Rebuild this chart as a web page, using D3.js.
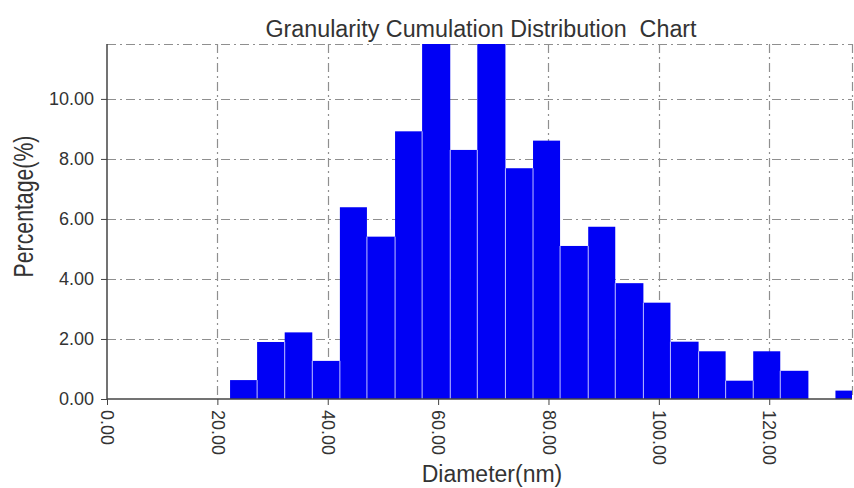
<!DOCTYPE html>
<html><head><meta charset="utf-8">
<script src="https://cdn.jsdelivr.net/npm/d3@7"></script>
<style>
html,body{margin:0;padding:0;background:#fff;}
text{font-family:"Liberation Sans",Arial,sans-serif;fill:#333;}
</style></head>
<body>
<svg id="chart" width="854" height="488"></svg>
<script>
// Data
const binStarts = [22.3, 27.2, 32.2, 37.2, 42.2, 47.1, 52.2, 57.1, 62.2, 67.1, 72.2, 77.2, 82.1, 87.2, 92.1, 97.2, 102.1, 107.2, 112.1, 117.1, 122.0, 127.1, 132.0];
const binEndLast = 137.0;
const percentages = [0.63, 1.90, 2.22, 1.27, 6.39, 5.41, 8.92, 12.6, 8.30, 12.3, 7.69, 8.61, 5.10, 5.74, 3.86, 3.21, 1.91, 1.59, 0.61, 1.59, 0.94, 0.00, 0.28];
const xTicks = [0, 20, 40, 60, 80, 100, 120];
const yTicks = [0, 2, 4, 6, 8, 10];
const xDomain = [0, 135];
const yDomain = [0, 11.83];

const svg = d3.select("#chart");
const m = {left:107, right:852, top:44, bottom:399};
const x = d3.scaleLinear().domain(xDomain).range([m.left, m.right]);
const y = d3.scaleLinear().domain(yDomain).range([m.bottom, m.top]);

svg.append("defs").append("clipPath").attr("id","clip")
  .append("rect").attr("x",m.left).attr("y",m.top).attr("width",m.right-m.left).attr("height",m.bottom-m.top);

const bins = binStarts.map((s,i)=>({x0:s, x1: i<binStarts.length-1 ? binStarts[i+1] : binEndLast, v:percentages[i]}));

// grid
const grid = svg.append("g").attr("stroke","#8f8f8f").attr("stroke-width",1.2).attr("stroke-dasharray","9,4,2,4").attr("fill","none");
yTicks.filter(d=>d>0).forEach(t=>{
  grid.append("line").attr("x1",m.left).attr("x2",m.right).attr("y1",Math.round(y(t))+0.5).attr("y2",Math.round(y(t))+0.5);
});
grid.append("line").attr("x1",m.left).attr("x2",m.right).attr("y1",m.top+0.5).attr("y2",m.top+0.5);
xTicks.filter(d=>d>0).forEach(t=>{
  grid.append("line").attr("x1",Math.round(x(t))+0.5).attr("x2",Math.round(x(t))+0.5).attr("y1",m.top).attr("y2",m.bottom);
});
grid.append("line").attr("x1",m.right+0.5).attr("x2",m.right+0.5).attr("y1",m.top).attr("y2",m.bottom);

// bars
const bars = svg.append("g").attr("clip-path","url(#clip)");
bars.selectAll("rect").data(bins.filter(d=>d.v>0)).join("rect")
  .attr("x",d=>x(d.x0)).attr("width",d=>x(d.x1)-x(d.x0))
  .attr("y",d=>y(d.v)).attr("height",d=>y(0)-y(d.v))
  .attr("fill","#0000f5");
// separators between adjacent bars
bars.selectAll("line.sep").data(bins.slice(1).map((d,i)=>({x:d.x0, h:Math.min(d.v, bins[i].v)})).filter(d=>d.h>0)).join("line")
  .attr("class","sep")
  .attr("x1",d=>x(d.x)).attr("x2",d=>x(d.x))
  .attr("y1",d=>y(d.h)).attr("y2",y(0))
  .attr("stroke","#b8b8ff").attr("stroke-width",1);

// axes
const yAxis = d3.axisLeft(y).tickValues(yTicks).tickFormat(d3.format(".2f")).tickSize(6).tickPadding(7);
const gy = svg.append("g").attr("transform",`translate(${m.left},0)`).call(yAxis);
gy.select(".domain").attr("stroke","#444").attr("stroke-width",1.5).attr("d",`M0,${m.top}V${m.bottom}`);
gy.selectAll(".tick line").attr("stroke","#444");
gy.selectAll(".tick text").attr("font-size",18).attr("font-family","Liberation Sans, Arial, sans-serif").attr("fill","#333");

const xAxis = d3.axisBottom(x).tickValues(xTicks).tickFormat(d3.format(".2f")).tickSize(6).tickPadding(4);
const gx = svg.append("g").attr("transform",`translate(0,${m.bottom})`).call(xAxis);
gx.select(".domain").attr("stroke","#444").attr("stroke-width",1.5).attr("d",`M${m.left},0H${m.right}`);
gx.selectAll(".tick line").attr("stroke","#444");
gx.selectAll(".tick text").attr("font-size",18).attr("font-family","Liberation Sans, Arial, sans-serif").attr("fill","#333")
  .attr("transform","rotate(90)").attr("text-anchor","start").attr("x",11).attr("y",0).attr("dy","0.35em");

// titles
svg.append("text").attr("x",481).attr("y",37).attr("text-anchor","middle").attr("font-size",23.3)
  .attr("xml:space","preserve").style("white-space","pre")
  .text("Granularity Cumulation Distribution  Chart");
svg.append("text").attr("x",492).attr("y",482).attr("text-anchor","middle").attr("font-size",23).text("Diameter(nm)");
svg.append("text").attr("transform","translate(33,206.5) rotate(-90) scale(0.76,1)").attr("text-anchor","middle").attr("font-size",28).text("Percentage(%)");
</script>
</body></html>
